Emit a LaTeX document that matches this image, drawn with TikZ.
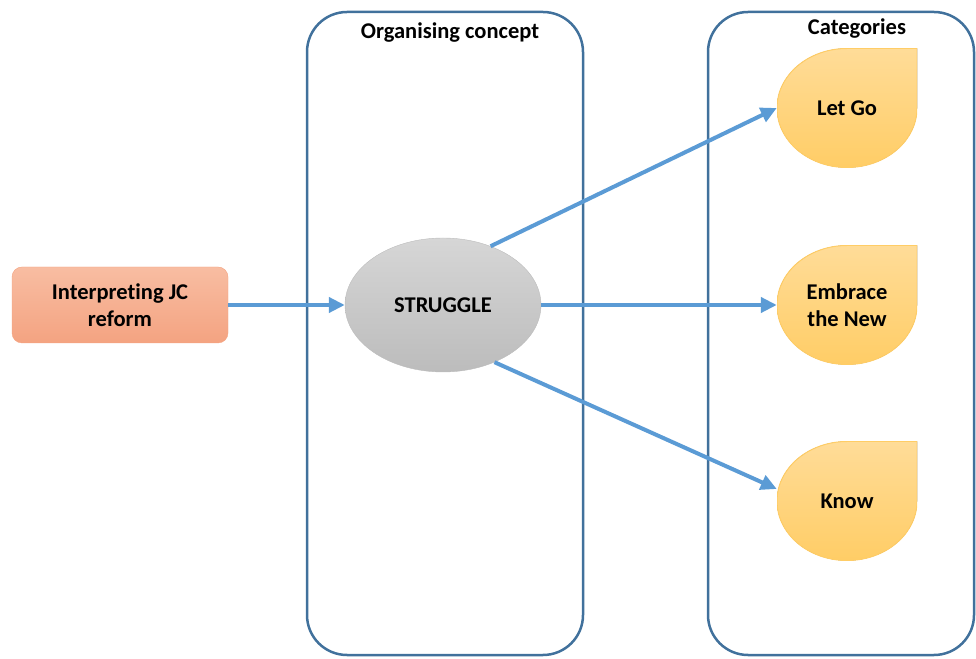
\documentclass[tikz,border=0pt]{standalone}
\usepackage{fontspec}
\setmainfont[Ligatures=NoCommon]{Carlito}
\usetikzlibrary{arrows.meta,shapes.geometric}
\definecolor{frameblue}{HTML}{41719C}
\definecolor{arrowblue}{HTML}{5B9BD5}
\definecolor{salmontop}{HTML}{F8BDA2}
\definecolor{salmonbot}{HTML}{F4A381}
\definecolor{greytop}{HTML}{D6D6D6}
\definecolor{greybot}{HTML}{BCBCBC}
\definecolor{droptop}{HTML}{FFDC98}
\definecolor{dropbot}{HTML}{FFCD66}
\tikzset{
  frame/.style={draw=frameblue,line width=2.5pt,rounded corners=40pt},
  drop/.style={minimum width=140pt,minimum height=119pt,align=center,
    path picture={\fill[top color=droptop,bottom color=dropbot,draw=dropbot,line width=1pt]
      (path picture bounding box.north east) -- (path picture bounding box.east)
      arc[start angle=0,end angle=-270,x radius=70pt,y radius=59.5pt] -- cycle;}},
  link/.style={draw=arrowblue,line width=4pt,-{Triangle[length=16pt,width=15pt]}}
}
\begin{document}
\begin{tikzpicture}[x=1pt,y=1pt,font=\fontsize{22.5}{27}\selectfont\bfseries]
        \useasboundingbox (0,0) rectangle (976,658);
        \draw[frame] (307,3) rectangle (583,646);
        \draw[frame] (708,3) rectangle (974,646);
        \node (orgtitle) at (450,625) {Organising concept};
        \node (cattitle) at (857,629) {Categories};
        \node[draw=salmonbot,top color=salmontop,bottom color=salmonbot,rounded corners=10pt,
          minimum width=216pt,minimum height=76pt,align=center] (reform) at (120,353) {Interpreting JC\\reform};
        \node[ellipse,draw=greybot,top color=greytop,bottom color=greybot,
          minimum width=196pt,minimum height=134pt] (struggle) at (443,353) {STRUGGLE};
        \begin{scope}[every node/.style={drop}]
        \node (letgo) at (847,550) {Let Go};
        \node (embrace) at (847,353) {Embrace\\the New};
        \node (know) at (847,157) {Know};
        \end{scope}
        \begin{scope}[every edge/.style={link}]
        \path (reform) edge (struggle);
        \path (struggle.51) edge (letgo.west);
        \path (struggle.east) edge (embrace.west);
        \path (struggle.-48) edge ([yshift=12pt]know.west);
        \end{scope}
        \end{tikzpicture}
\end{document}
